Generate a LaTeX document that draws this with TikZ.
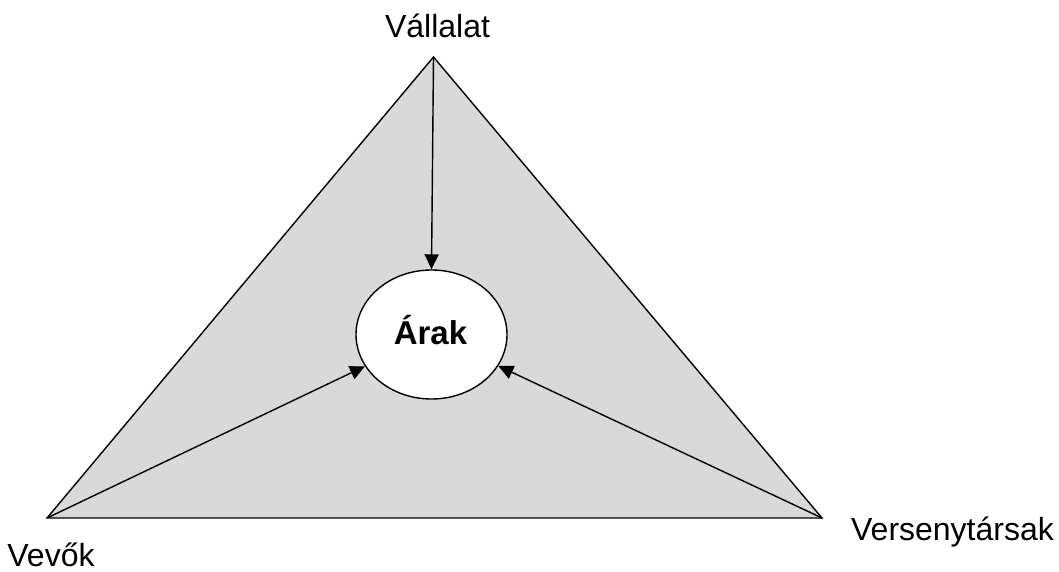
\documentclass[tikz,border=0pt]{standalone}
\usepackage{fontspec}
\setmainfont{Liberation Sans}
\usetikzlibrary{shapes.geometric,arrows.meta}
\begin{document}
\begin{tikzpicture}[x=1pt,y=-1pt,
  lbl/.style={inner sep=0pt,anchor=base,font=\fontsize{32}{38}\selectfont},
  edge/.style={line width=1.4pt},
  arr/.style={line width=1.4pt,-{Triangle[length=15pt,width=14pt]}}]
\useasboundingbox (0,0) rectangle (1059,572);
\coordinate (apex) at (433.5,57);
\coordinate (bl) at (47,518);
\coordinate (br) at (822,518);
\filldraw[fill=gray!30,edge,line join=miter] (apex) -- (bl) -- (br) -- cycle;
\node[ellipse,draw,fill=white,line width=1.4pt,minimum width=151pt,minimum height=129pt,inner sep=0pt] (arak) at (431.5,334.5) {};
\node[inner sep=0pt,anchor=base,font=\fontsize{33}{38}\selectfont\bfseries] (arakt) at (430.5,344) {Árak};
\draw[arr] (apex) -- (arak.north);
\draw[arr] (bl) -- (arak);
\draw[arr] (br) -- (arak);
\node[lbl] (v) at (437.5,38) {Vállalat};
\node[lbl] (vev) at (51,566.5) {Vevők};
\node[lbl] (vers) at (952.5,540) {Versenytársak};
\end{tikzpicture}
\end{document}
